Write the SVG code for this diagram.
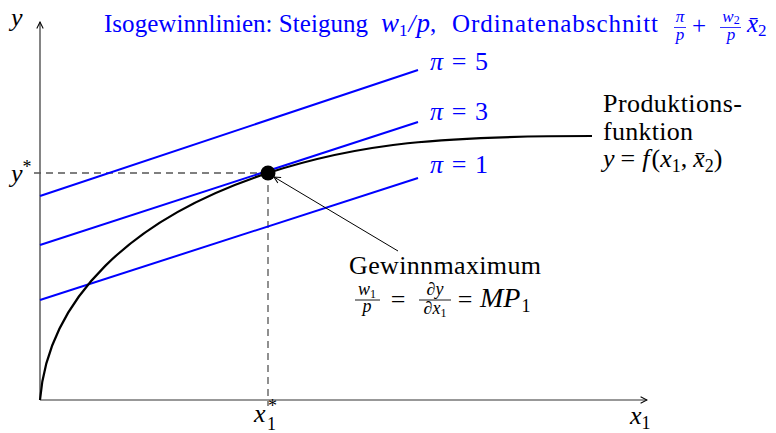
<svg xmlns="http://www.w3.org/2000/svg" width="776" height="433" viewBox="0 0 776 433">
<defs>
<marker id="arr" viewBox="0 0 10 10" refX="9" refY="5" markerWidth="8" markerHeight="8" markerUnits="userSpaceOnUse" orient="auto">
<path d="M1,1 L9,5 L1,9" fill="none" stroke="#000" stroke-width="1.3"/>
</marker>
</defs>
<style>
text{font-family:"Liberation Serif","Times New Roman",serif;}
.t{font-size:25px;fill:#0000ff;}
.tm{font-size:17px;fill:#0000ff;}
.lbl{font-size:26px;fill:#000;}
.it{font-style:italic;}
.pi{font-size:26px;fill:#0000ff;}
.sm{font-size:18px;}
.blue{stroke:#0000ff;stroke-width:2;fill:none;}
.axis{stroke:#333;stroke-width:1.2;fill:none;}
.dash{stroke:#555;stroke-width:1.3;stroke-dasharray:7 5;fill:none;}
.bar{stroke:#000;stroke-width:0.9;}
.bbar{stroke:#0000ff;stroke-width:0.8;}
</style>
<rect width="776" height="433" fill="#fff"/>

<g id="connectors">
<line class="axis" x1="40" y1="400" x2="40" y2="22" marker-end="url(#arr)"/>
<line class="axis" x1="40" y1="400" x2="647" y2="400" marker-end="url(#arr)"/>
<line class="dash" x1="34" y1="173" x2="268" y2="173"/>
<line class="dash" x1="268" y1="173" x2="268" y2="406"/>
<line class="blue" x1="40" y1="196" x2="418" y2="70"/>
<line class="blue" x1="40" y1="245" x2="418" y2="122"/>
<line class="blue" x1="40" y1="300" x2="418" y2="178"/>
<path d="M40,400 C48,300 130,218 268,173 C360,143 440,136 592,136" fill="none" stroke="#000" stroke-width="2.2"/>
<line x1="398" y1="251" x2="274" y2="177" stroke="#000" stroke-width="1" marker-end="url(#arr)"/>
</g>

<g id="optimum">
<circle cx="268" cy="173" r="7.5" fill="#000"/>
</g>

<g id="title">
<text class="t" x="104" y="32" textLength="264" lengthAdjust="spacing">Isogewinnlinien: Steigung</text>
<text class="t" x="381" y="32"><tspan class="it" font-size="27">w</tspan><tspan class="tm" dy="4">1</tspan><tspan class="it" dy="-4" dx="1">/</tspan><tspan class="it" dx="1" font-size="27">p</tspan>,</text>
<text class="t" x="452" y="32" textLength="206" lengthAdjust="spacing">Ordinatenabschnitt</text>
<text class="tm it" x="680" y="22" text-anchor="middle">π</text>
<line class="bbar" x1="674" y1="27.5" x2="686" y2="27.5"/>
<text class="tm it" x="680" y="40" text-anchor="middle">p</text>
<text class="t" x="699" y="34" text-anchor="middle">+</text>
<text class="tm" x="731" y="22" text-anchor="middle"><tspan class="it">w</tspan><tspan font-size="12" dy="2">2</tspan></text>
<line class="bbar" x1="720" y1="27.5" x2="741" y2="27.5"/>
<text class="tm it" x="731" y="40" text-anchor="middle">p</text>
<text class="t" x="747" y="32"><tspan class="it">x̄</tspan><tspan class="tm" dy="4">2</tspan></text>
</g>

<g id="axis-labels">
<text class="lbl it" x="11" y="26">y</text>
<text class="lbl" x="11" y="182"><tspan class="it">y</tspan><tspan class="sm" dy="-9">*</tspan></text>
<text class="lbl it" x="254" y="422">x</text>
<text class="sm" x="268" y="412">*</text>
<text class="sm" x="267" y="430">1</text>
<text class="lbl" x="630" y="424"><tspan class="it">x</tspan><tspan class="sm" dy="5">1</tspan></text>
</g>

<g id="isoprofit-labels">
<text class="pi" x="430" y="70" textLength="58" lengthAdjust="spacing"><tspan class="it">π</tspan> = 5</text>
<text class="pi" x="430" y="120" textLength="58" lengthAdjust="spacing"><tspan class="it">π</tspan> = 3</text>
<text class="pi" x="430" y="173" textLength="58" lengthAdjust="spacing"><tspan class="it">π</tspan> = 1</text>
</g>

<g id="production-function">
<text class="lbl" x="603" y="112" textLength="139" lengthAdjust="spacing">Produktions-</text>
<text class="lbl" x="603" y="140" textLength="90" lengthAdjust="spacing">funktion</text>
<text class="lbl" x="603" y="167"><tspan class="it">y</tspan><tspan dx="6">=</tspan><tspan class="it" dx="7">f</tspan><tspan dx="2">(</tspan><tspan class="it">x</tspan><tspan class="sm" dy="5">1</tspan><tspan dy="-5">,</tspan><tspan class="it" dx="6">x̄</tspan><tspan class="sm" dy="5">2</tspan><tspan dy="-5">)</tspan></text>
</g>

<g id="profit-maximum">
<text class="lbl" x="349" y="274" textLength="192" lengthAdjust="spacing">Gewinnmaximum</text>
<text class="sm" x="367" y="295" text-anchor="middle"><tspan class="it">w</tspan><tspan font-size="12" dy="3">1</tspan></text>
<line class="bar" x1="355" y1="300" x2="380" y2="300"/>
<text class="sm it" x="367" y="312" text-anchor="middle">p</text>
<text class="lbl" x="398" y="308" text-anchor="middle">=</text>
<text class="sm" x="435" y="295" text-anchor="middle">∂<tspan class="it">y</tspan></text>
<line class="bar" x1="419" y1="300" x2="451" y2="300"/>
<text class="sm" x="435" y="314" text-anchor="middle">∂<tspan class="it">x</tspan><tspan font-size="12" dy="3">1</tspan></text>
<text class="lbl" x="465" y="308" text-anchor="middle">=</text>
<text class="lbl" x="480" y="307"><tspan class="it" font-size="28">MP</tspan><tspan class="sm" dy="5" dx="1">1</tspan></text>
</g>
</svg>
